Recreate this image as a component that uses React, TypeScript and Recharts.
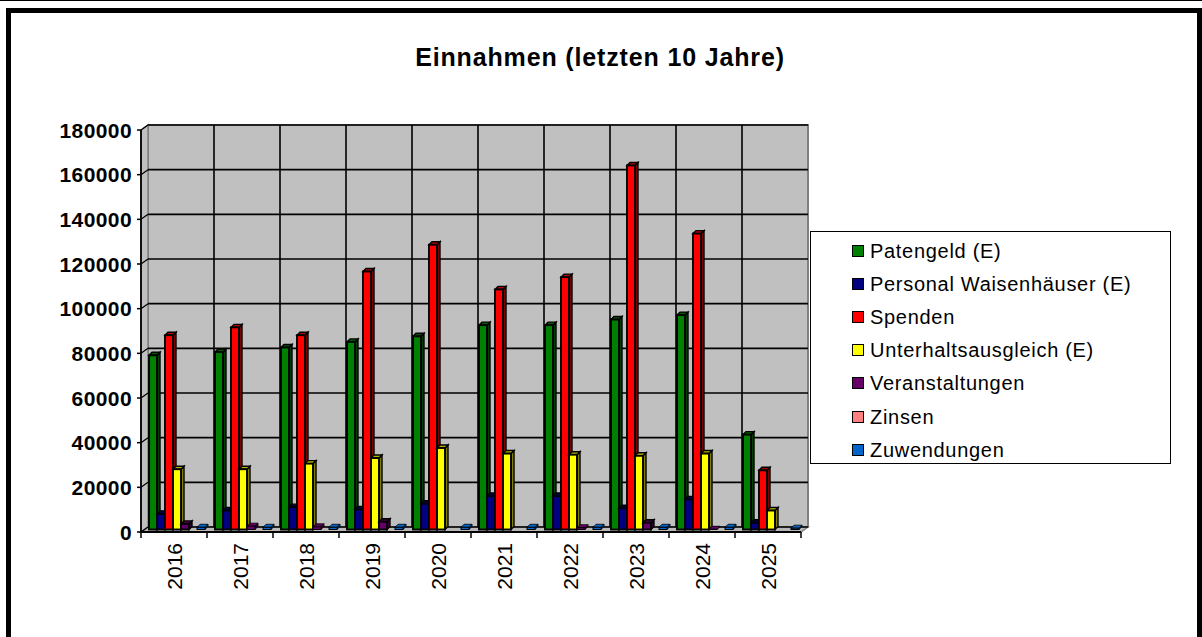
import React from 'react';
import { BarChart, Bar, XAxis, YAxis, CartesianGrid } from 'recharts';

const years = ['2016', '2017', '2018', '2019', '2020', '2021', '2022', '2023', '2024', '2025'];
const patengeld = [78000, 79500, 81500, 84000, 86500, 91500, 91500, 94000, 96000, 42500];
const personal = [7000, 8500, 10000, 9000, 11500, 15000, 15000, 9500, 13500, 3000];
const spenden = [87000, 90500, 87000, 115500, 127500, 107500, 113000, 163000, 132500, 26500];
const unterhalt = [27000, 27000, 29500, 32000, 36500, 34000, 33500, 33000, 34000, 8500];
const veranstaltungen = [2500, 1500, 1200, 3500, 0, 0, 800, 3000, 100, 0];
const zinsen = [0, 0, 0, 0, 0, 0, 0, 0, 0, 0];
const zuwendungen = [1000, 1000, 1000, 1000, 1000, 1000, 1000, 1000, 1000, 600];
const yTicks = [0, 20000, 40000, 60000, 80000, 100000, 120000, 140000, 160000, 180000];

const series = [
  { key: 'Patengeld (E)', color: '#008000', values: patengeld },
  { key: 'Personal Waisenhäuser (E)', color: '#000080', values: personal },
  { key: 'Spenden', color: '#FF0000', values: spenden },
  { key: 'Unterhaltsausgleich (E)', color: '#FFFF00', values: unterhalt },
  { key: 'Veranstaltungen', color: '#660066', values: veranstaltungen },
  { key: 'Zinsen', color: '#FF8080', values: zinsen },
  { key: 'Zuwendungen', color: '#0066CC', values: zuwendungen },
];

const data = years.map((year, i) => {
  const row: Record<string, any> = { year };
  series.forEach((s) => (row[s.key] = s.values[i]));
  return row;
});

// layout (back wall of the pseudo 3D plot)
const W = 1202;
const H = 637;
const PLOT_LEFT = 148;
const PLOT_RIGHT = 808;
const PLOT_TOP = 125;
const PLOT_BOTTOM = 527;
const X_AXIS_H = 60;
const FRONT_DX = -7;
const FRONT_DY = 5;
const DEPTH = 3;
const FONT = 'Arial, "Liberation Sans", sans-serif';

const shade = (hex: string, f: number) => {
  const n = parseInt(hex.slice(1), 16);
  const r = Math.round(((n >> 16) & 255) * f);
  const g = Math.round(((n >> 8) & 255) * f);
  const b = Math.round((n & 255) * f);
  return `rgb(${r},${g},${b})`;
};

const Box3D = (props: any) => {
  const { x, y, width, height, fill } = props;
  if (!height || height <= 0) return null;
  const bx = x - 3;
  const by = y + 2.5;
  const d = DEPTH;
  const thin = height < 5; // keep tiny boxes from turning solid black
  const side = `${bx + width},${by} ${bx + width + d},${by - d} ${bx + width + d},${by + height - d} ${bx + width},${by + height}`;
  const top = `${bx},${by} ${bx + d},${by - d} ${bx + width + d},${by - d} ${bx + width},${by}`;
  return (
    <g>
      <polygon points={side} fill={shade(fill, 0.5)} stroke="#000" strokeWidth={thin ? 0.8 : 1.4} />
      <polygon points={top} fill={thin ? fill : shade(fill, 0.7)} stroke="#000" strokeWidth={thin ? 0.8 : 1.4} />
      <rect x={bx} y={by} width={width} height={height} fill={fill} stroke="#000" strokeWidth={thin ? 1 : 1.9} />
    </g>
  );
};

const YTick = (props: any) => {
  const { y, payload } = props;
  const fy = y + FRONT_DY;
  const fx = PLOT_LEFT + FRONT_DX;
  return (
    <g>
      <line x1={fx} y1={fy} x2={PLOT_LEFT} y2={y} stroke="#000" strokeWidth={1.2} />
      <line x1={fx - 4} y1={fy} x2={fx} y2={fy} stroke="#000" strokeWidth={1.5} />
      <text
        x={132}
        y={fy}
        textAnchor="end"
        dominantBaseline="central"
        fontFamily={FONT}
        fontWeight="bold"
        fontSize={21}
        letterSpacing={0.4}
        fill="#000"
      >
        {payload.value}
      </text>
    </g>
  );
};

const band = (PLOT_RIGHT - PLOT_LEFT) / years.length;

const XTick = (props: any) => {
  const { x, payload, index } = props;
  const fx = x + FRONT_DX;
  const fy = PLOT_BOTTOM + FRONT_DY;
  return (
    <g>
      <line x1={fx - band / 2} y1={fy} x2={fx - band / 2} y2={fy + 6} stroke="#000" strokeWidth={1.5} />
      {index === years.length - 1 && (
        <line x1={fx + band / 2} y1={fy} x2={fx + band / 2} y2={fy + 6} stroke="#000" strokeWidth={1.5} />
      )}
      <text
        x={x + 1}
        y={543}
        transform={`rotate(-90 ${x + 1} 543)`}
        textAnchor="end"
        fontFamily={FONT}
        fontSize={21}
        fill="#000"
      >
        {payload.value}
      </text>
    </g>
  );
};

const Walls = () => {
  const fl = PLOT_LEFT + FRONT_DX;
  const fr = PLOT_RIGHT + FRONT_DX;
  const fb = PLOT_BOTTOM + FRONT_DY;
  const ft = PLOT_TOP + FRONT_DY;
  return (
    <svg width={W} height={H} style={{ position: 'absolute', left: 0, top: 0 }}>
      <rect
        x={PLOT_LEFT}
        y={PLOT_TOP}
        width={PLOT_RIGHT - PLOT_LEFT}
        height={PLOT_BOTTOM - PLOT_TOP}
        fill="#C0C0C0"
        stroke="#808080"
        strokeWidth={2}
      />
      <polygon
        points={`${fl},${ft} ${PLOT_LEFT},${PLOT_TOP} ${PLOT_LEFT},${PLOT_BOTTOM} ${fl},${fb}`}
        fill="#C0C0C0"
        stroke="#808080"
        strokeWidth={1.5}
      />
      <polygon
        points={`${fl},${fb} ${PLOT_LEFT},${PLOT_BOTTOM} ${PLOT_RIGHT},${PLOT_BOTTOM} ${fr},${fb}`}
        fill="#B8B8B8"
        stroke="#808080"
        strokeWidth={1.5}
      />
      <line x1={fl} y1={ft} x2={fl} y2={fb + 1} stroke="#000" strokeWidth={1.8} />
      <line x1={fl} y1={fb} x2={fr} y2={fb} stroke="#000" strokeWidth={1.8} />
    </svg>
  );
};

const Legend = () => (
  <div
    style={{
      position: 'absolute',
      left: 810,
      top: 231,
      width: 361,
      height: 233,
      boxSizing: 'border-box',
      border: '1px solid #000',
      background: '#fff',
      paddingTop: 2,
      fontFamily: FONT,
      fontSize: 20,
      letterSpacing: 0.7,
    }}
  >
    {series.map((s) => (
      <div key={s.key} style={{ height: 33.2, display: 'flex', alignItems: 'center', paddingLeft: 41 }}>
        <span
          style={{
            display: 'inline-block',
            width: 10,
            height: 10,
            background: s.color,
            border: '1px solid #000',
            marginRight: 6,
          }}
        />
        <span style={{ lineHeight: '22px' }}>{s.key}</span>
      </div>
    ))}
  </div>
);

export default function App() {
  return (
    <div
      style={{
        position: 'absolute',
        left: 0,
        top: 0,
        width: W,
        height: H,
        overflow: 'hidden',
        background: '#fff',
      }}
    >
      <div style={{ position: 'absolute', left: 0, top: 0, width: W, height: 1, background: '#000' }} />
      <div
        style={{
          position: 'absolute',
          left: 6,
          top: 8,
          width: W - 6,
          height: H,
          boxSizing: 'border-box',
          border: '5px solid #000',
        }}
      />
      <div
        style={{
          position: 'absolute',
          left: 0,
          top: 45,
          width: 1200,
          textAlign: 'center',
          fontFamily: FONT,
          fontWeight: 'bold',
          fontSize: 25,
          lineHeight: '25px',
          letterSpacing: 0.85,
        }}
      >
        Einnahmen (letzten 10 Jahre)
      </div>
      <Walls />
      <div style={{ position: 'absolute', left: 0, top: 0 }}>
        <BarChart
          width={W}
          height={H}
          data={data}
          margin={{ top: PLOT_TOP, right: W - PLOT_RIGHT, bottom: H - PLOT_BOTTOM - X_AXIS_H, left: 0 }}
          barCategoryGap={4}
          barGap={0}
        >
          <CartesianGrid
            stroke="#000"
            strokeWidth={1.6}
            verticalCoordinatesGenerator={(p: any) => {
              const left = p?.offset?.left ?? PLOT_LEFT;
              const width = p?.offset?.width ?? PLOT_RIGHT - PLOT_LEFT;
              return years.slice(1).map((_, i) => left + ((i + 1) * width) / years.length);
            }}
          />
          <XAxis
            dataKey="year"
            interval={0}
            height={X_AXIS_H}
            axisLine={false}
            tickLine={false}
            tick={<XTick />}
          />
          <YAxis
            width={PLOT_LEFT}
            domain={[0, 180000]}
            ticks={yTicks}
            interval={0}
            axisLine={false}
            tickLine={false}
            tick={<YTick />}
          />
          {series.map((s) => (
            <Bar key={s.key} dataKey={s.key} fill={s.color} shape={<Box3D />} isAnimationActive={false} />
          ))}
        </BarChart>
      </div>
      <Legend />
    </div>
  );
}
